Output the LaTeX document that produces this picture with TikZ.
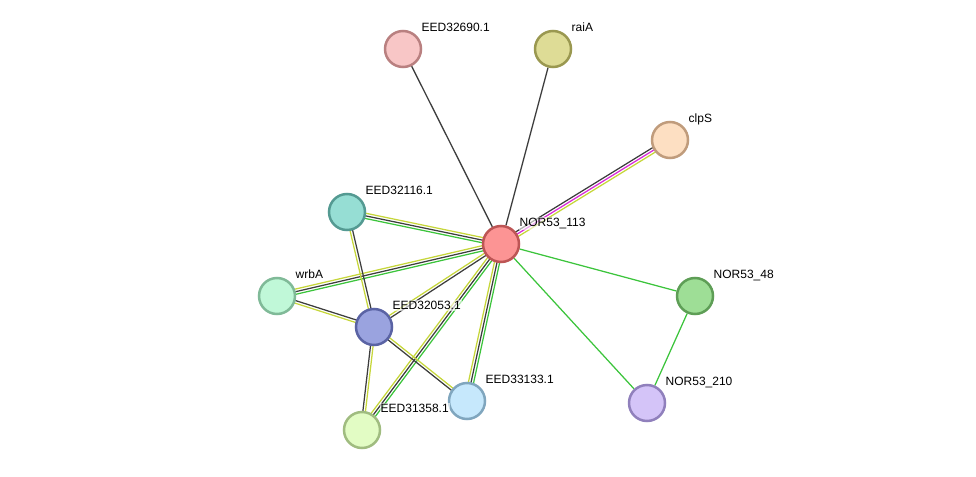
\documentclass[tikz,border=0pt]{standalone}
\usepackage{fontspec}
\setmainfont{Liberation Sans}
\usetikzlibrary{calc,backgrounds}
% evidence colours
\definecolor{txtmine}{HTML}{C6D63A}
\definecolor{coexpr}{HTML}{3D3D3D}
\definecolor{neighb}{HTML}{3CC43C}
\definecolor{experim}{HTML}{D828D8}
% protein colours (fill / border)
\definecolor{hubF}{HTML}{FC9494}\definecolor{hubB}{HTML}{BD5555}
\definecolor{pinkF}{HTML}{F8C6C6}\definecolor{pinkB}{HTML}{B98080}
\definecolor{oliveF}{HTML}{DEDC96}\definecolor{oliveB}{HTML}{9A9850}
\definecolor{peachF}{HTML}{FDDFC2}\definecolor{peachB}{HTML}{C09C7C}
\definecolor{tealF}{HTML}{96DED4}\definecolor{tealB}{HTML}{549A92}
\definecolor{mintF}{HTML}{C0F8D8}\definecolor{mintB}{HTML}{80BA98}
\definecolor{blueF}{HTML}{9AA3DF}\definecolor{blueB}{HTML}{5A63A4}
\definecolor{greenF}{HTML}{9EDE96}\definecolor{greenB}{HTML}{5E9E56}
\definecolor{skyF}{HTML}{C6E8FC}\definecolor{skyB}{HTML}{80A6BE}
\definecolor{lilacF}{HTML}{D4C4F8}\definecolor{lilacB}{HTML}{9080BC}
\definecolor{limeF}{HTML}{E2FCC4}\definecolor{limeB}{HTML}{A0BC80}

% one strand of an edge, shifted sideways
\newcommand{\linkpart}[4]{%
  \draw[link, #4] ($(#1)!#3!90:(#2)$) -- ($(#2)!#3!-90:(#1)$);}
\newcommand{\linktwo}[4]{%
  \linkpart{#1}{#2}{1.3pt}{#3}\linkpart{#1}{#2}{-1.3pt}{#4}}
\newcommand{\linkthree}[5]{%
  \linkpart{#1}{#2}{2.6pt}{#3}\linkpart{#1}{#2}{0pt}{#4}\linkpart{#1}{#2}{-2.6pt}{#5}}

\begin{document}
\begin{tikzpicture}[x=1pt, y=-1pt,
    prot/.style={circle, minimum size=36pt, inner sep=0pt, line width=2.5pt},
    lab/.style={font=\fontsize{12}{14}\selectfont, anchor=base west, inner sep=1pt,
      fill=white, fill opacity=0.6, text opacity=1, label distance=5.5pt},
    link/.style={line width=1.25pt},
    single/.style={line width=1.3pt, coexpr}]
  \useasboundingbox (0,0) rectangle (976,476);

  % Proteins
  \foreach \nm/\x/\y/\fc/\bc/\txt in {
      hub/501/244/hubF/hubB/NOR53\_113,
      n32690/403/49/pinkF/pinkB/EED32690.1,
      raiA/553/49/oliveF/oliveB/raiA,
      clpS/670/140/peachF/peachB/clpS,
      n32116/347/212/tealF/tealB/EED32116.1,
      wrbA/277/296/mintF/mintB/wrbA,
      n32053/374/327/blueF/blueB/EED32053.1,
      nor48/695/296/greenF/greenB/NOR53\_48,
      n33133/467/401/skyF/skyB/EED33133.1,
      nor210/647/403/lilacF/lilacB/NOR53\_210,
      n31358/362/430/limeF/limeB/EED31358.1} {
    \node[prot, fill=\fc, draw=\bc, label={[lab]45:\txt}] (\nm) at (\x,\y) {};
  }

  % Interactions
  \begin{pgfonlayer}{background}
    \draw[single] (hub) -- (n32690);
    \draw[single] (hub) -- (raiA);
    \linkthree{hub}{clpS}{coexpr}{experim}{txtmine}
    \linkthree{hub}{n32116}{neighb}{coexpr}{txtmine}
    \linkthree{hub}{wrbA}{neighb}{coexpr}{txtmine}
    \linktwo{hub}{n32053}{coexpr}{txtmine}
    \linkthree{hub}{n31358}{neighb}{coexpr}{txtmine}
    \linkthree{hub}{n33133}{neighb}{coexpr}{txtmine}
    \draw[link, neighb] (hub) -- (nor48);
    \draw[link, neighb] (hub) -- (nor210);
    \draw[link, neighb] (nor48) -- (nor210);
    \linktwo{n32116}{n32053}{coexpr}{txtmine}
    \linktwo{wrbA}{n32053}{coexpr}{txtmine}
    \linktwo{n32053}{n31358}{txtmine}{coexpr}
    \linktwo{n32053}{n33133}{txtmine}{coexpr}
  \end{pgfonlayer}
\end{tikzpicture}
\end{document}
